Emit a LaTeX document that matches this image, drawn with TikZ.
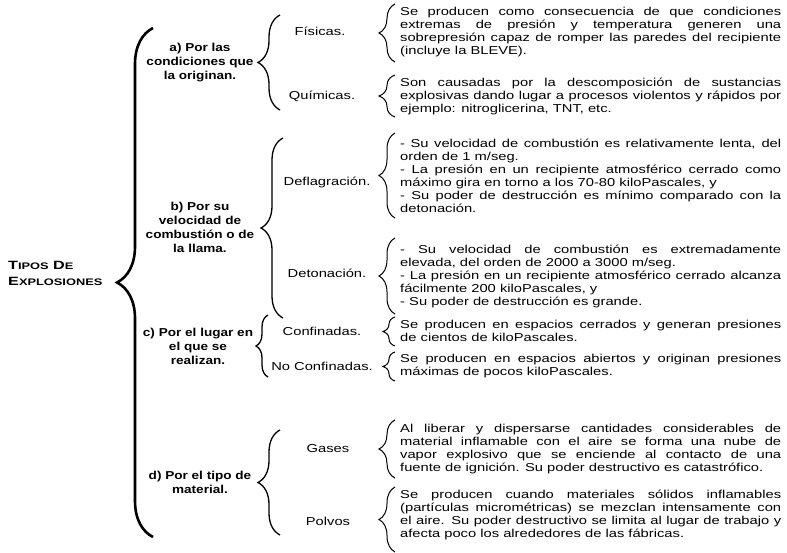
\documentclass[tikz,border=0pt]{standalone}
\usepackage{fontspec}
\setmainfont{Liberation Sans}
\newfontfamily\cuerpo[FakeStretch=1.28]{Liberation Sans}
\newfontfamily\rotulo[FakeStretch=1.18]{Liberation Sans}
\newfontfamily\titulo[FakeStretch=1.35]{Liberation Sans}
\usetikzlibrary{decorations.pathreplacing}

\setlength{\parindent}{0pt}
\tolerance=9999
\hyphenpenalty=10000

\newcommand{\versalita}[2]{#1{\fontsize{9.5}{10}\selectfont #2}}

\begin{document}
\begin{tikzpicture}[x=1pt, y=-1pt,
        texto/.style={anchor=west, inner sep=0pt, text width=381pt, align=justify,
            font=\cuerpo\fontsize{11.5}{13}\selectfont},
        tipo/.style={inner sep=0pt, font=\cuerpo\fontsize{11.5}{13}\selectfont},
        clase/.style={inner sep=0pt, align=center,
            font=\rotulo\bfseries\fontsize{11.5}{14}\selectfont},
        llave/.style={decorate, decoration={brace, amplitude=#1}, line width=1.3pt},
        llavetexto/.style={decorate, decoration={brace, amplitude=#1}, line width=1pt}]
    \useasboundingbox (0,0) rectangle (787,552);

    \node[anchor=west, inner sep=0pt, align=left, font=\titulo\bfseries\fontsize{12}{16}\selectfont]
        (titulo) at (8,273) {\versalita{T}{IPOS} \versalita{D}{E}\\\versalita{E}{XPLOSIONES}};
    \draw[llave=36, line width=2.6pt] (153,537) -- (153,28);

    \node[clase] (clasea) at (200,63) {a) Por las\\condiciones que\\la originan.};
    \node[clase] (claseb) at (200,227) {b) Por su\\velocidad de\\combustión o de\\la llama.};
    \node[clase] (clasec) at (198,346) {c) Por el lugar en\\el que se\\realizan.};
    \node[clase] (clased) at (200,482) {d) Por el tipo de\\material.};

    \draw[llave=22] (280,110) -- (280,15);
    \draw[llave=22] (283,318) -- (283,138);
    \draw[llave=12] (268,377) -- (268,315);
    \draw[llave=22] (280,535) -- (280,430);

    \node[tipo] (fisicas) at (320,31) {Físicas.};
    \node[tipo] (quimicas) at (322,96) {Químicas.};
    \node[tipo] (deflag) at (327,182) {Deflagración.};
    \node[tipo] (deton) at (327,273) {Detonación.};
    \node[tipo] (confin) at (322,331) {Confinadas.};
    \node[tipo] (noconfin) at (322,366) {No Confinadas.};
    \node[tipo] (gases) at (328,449) {Gases};
    \node[tipo] (polvos) at (328,521) {Polvos};

    \draw[llavetexto=16] (395,62) -- (395,4);
    \draw[llavetexto=16] (395,117) -- (395,75);
    \draw[llavetexto=16] (395,218) -- (395,133);
    \draw[llavetexto=16] (395,314) -- (395,238);
    \draw[llavetexto=12] (395,346) -- (395,317);
    \draw[llavetexto=12] (395,381) -- (395,352);
    \draw[llavetexto=16] (395,478) -- (395,420);
    \draw[llavetexto=16] (395,552) -- (395,487);

    \node[texto] (txtfisicas) at (400,32) {Se producen como consecuencia de que condiciones\linebreak
        extremas de presión y temperatura generen una\linebreak
        sobrepresión capaz de romper las paredes del recipiente\linebreak
        (incluye la BLEVE).};
    \node[texto] (txtquimicas) at (400,96) {Son causadas por la descomposición de sustancias\linebreak
        explosivas dando lugar a procesos violentos y rápidos por\linebreak
        ejemplo: nitroglicerina, TNT, etc.};
    \node[texto] (txtdeflag) at (400,176) {- Su velocidad de combustión es relativamente lenta, del\linebreak
        orden de 1 m/seg.\\
        - La presión en un recipiente atmosférico cerrado como\linebreak
        máximo gira en torno a los 70-80 kiloPascales, y\\
        - Su poder de destrucción es mínimo comparado con la\linebreak
        detonación.};
    \node[texto] (txtdeton) at (400,276) {- Su velocidad de combustión es extremadamente\linebreak
        elevada, del orden de 2000 a 3000 m/seg.\\
        - La presión en un recipiente atmosférico cerrado alcanza\linebreak
        fácilmente 200 kiloPascales, y\\
        - Su poder de destrucción es grande.};
    \node[texto] (txtconfin) at (400,331) {Se producen en espacios cerrados y generan presiones\linebreak
        de cientos de kiloPascales.};
    \node[texto] (txtnoconfin) at (400,366) {Se producen en espacios abiertos y originan presiones\linebreak
        máximas de pocos kiloPascales.};
    \node[texto] (txtgases) at (400,449) {Al liberar y dispersarse cantidades considerables de\linebreak
        material inflamable con el aire se forma una nube de\linebreak
        vapor explosivo que se enciende al contacto de una\linebreak
        fuente de ignición. Su poder destructivo es catastrófico.};
    \node[texto] (txtpolvos) at (400,515) {Se producen cuando materiales sólidos inflamables\linebreak
        (partículas micrométricas) se mezclan intensamente con\linebreak
        el aire. Su poder destructivo se limita al lugar de trabajo y\linebreak
        afecta poco los alrededores de las fábricas.};
\end{tikzpicture}
\end{document}
